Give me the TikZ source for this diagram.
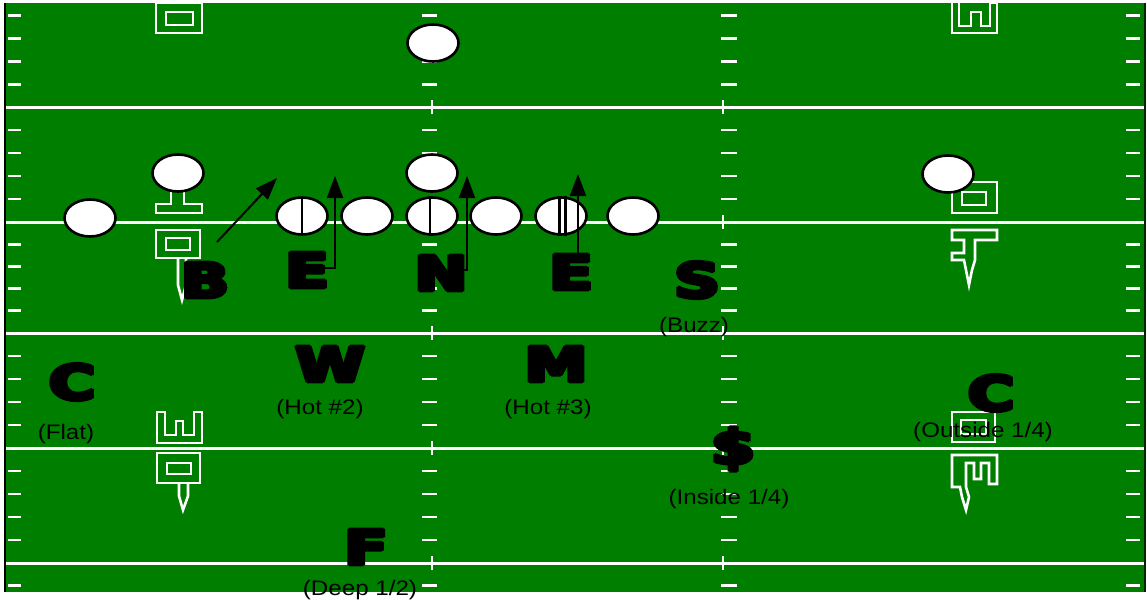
\documentclass[tikz,border=0pt]{standalone}
\usepackage{fontspec}
\setmainfont{Liberation Sans}
\newfontfamily\heavy{DejaVu Sans}[BoldFeatures={FakeBold=4}]
\usetikzlibrary{shapes.geometric,arrows.meta}
\definecolor{field}{RGB}{0,126,0}
\tikzset{
 player/.style={ellipse, draw=black, fill=white, line width=2.6pt, minimum width=51pt, minimum height=37pt, inner sep=0pt},
 yardline/.style={white, line width=3pt},
 hashmark/.style={white, line width=2.8pt},
 tickmark/.style={white, line width=2pt},
 numline/.style={white, line width=2.6pt, line join=miter},
 midline/.style={black, line width=2.2pt},
 big/.style={font=\heavy\bfseries\fontsize{48}{48}\selectfont, inner sep=0pt, text=black},
 small/.style={font=\fontsize{21}{21}\selectfont, inner sep=0pt, text=black},
 route/.style={black, line width=2pt, -{Triangle[length=22pt,width=16pt]}},
}
\newcommand{\fatText}[1]{\makebox[0pt][l]{\hspace{-1.3pt}#1}\makebox[0pt][l]{\hspace{1.3pt}#1}\makebox[0pt][l]{\raisebox{1pt}{#1}}\makebox[0pt][l]{\raisebox{-1pt}{#1}}#1}
\newcommand{\wideB}[1]{\scalebox{1.3}[1]{\fatText{#1}}}
\newcommand{\wideS}[1]{\scalebox{1.15}[1]{#1}}
\begin{document}
\begin{tikzpicture}[x=1pt,y=-1pt]
\useasboundingbox (0,0) rectangle (1147,605);
\fill[white] (0,0) rectangle (1147,605);
\fill[field] (5,3) rectangle (1146,592);
\draw[black, line width=2pt] (5,3) -- (5,592);
\draw[black!70!field, line width=2pt] (1145,3) -- (1145,592);
% yard lines
\foreach \y in {107,222,333,448,563}{
  \draw[yardline] (6,\y) -- (1144,\y);
  \draw[tickmark] (432,\y-7) -- (432,\y+7);
  \draw[tickmark] (723,\y-7) -- (723,\y+7);
}
% hash marks
\begin{scope}
\clip (6,3) rectangle (1144,592);
\foreach \a/\b in {-7/107,107/222,222/333,333/448,448/563,563/677}{
 \foreach \k in {1,2,3,4}{
  \pgfmathsetmacro{\yy}{\a+(\b-\a)*\k/5}
  \draw[hashmark] (8,\yy) -- (21,\yy);
  \draw[hashmark] (1126,\yy) -- (1140,\yy);
  \draw[hashmark] (422,\yy) -- (437,\yy);
  \draw[hashmark] (721,\yy) -- (737,\yy);
 }}
\end{scope}
% yard numbers, left
\draw[numline] (156,3) rectangle (202,33);
\draw[numline] (166,12) rectangle (193,25);
\draw[numline] (171,188) -- (171,204) -- (156,204) -- (156,213) -- (202,213) -- (202,204) -- (184,204) -- (184,188);
\draw[numline] (156,230) rectangle (200,258);
\draw[numline] (166,238) rectangle (190,250);
\draw[numline] (178,258) -- (178,285) -- (182,300) -- (186,285) -- (186,258);
\draw[numline] (157,412) -- (157,443) -- (202,443) -- (202,412) -- (194,412) -- (194,435) -- (183,435) -- (183,421) -- (176,421) -- (176,435) -- (165,435) -- (165,412) -- cycle;
\draw[numline] (157,453) rectangle (200,483);
\draw[numline] (167,463) rectangle (191,474);
\draw[numline] (179,483) -- (179,496) -- (183,510) -- (188,496) -- (188,483);
% yard numbers, right
\draw[numline] (952,3) -- (952,33) -- (997,33) -- (997,3) -- (990,3) -- (990,26) -- (981,26) -- (981,12) -- (971,12) -- (971,26) -- (959,26) -- (959,3);
\draw[numline] (952,182) rectangle (997,213);
\draw[numline] (962,192) rectangle (986,205);
\draw[numline] (952,230) -- (997,230) -- (997,240) -- (975,240) -- (975,260) -- (972,270) -- (969,285) -- (966,270) -- (964,260) -- (952,260) -- (952,253) -- (964,253) -- (964,240) -- (952,240) -- cycle;
\draw[numline] (952,412) rectangle (995,442);
\draw[numline] (961,420) rectangle (986,434);
\draw[numline] (952,455) -- (997,455) -- (997,484) -- (989,484) -- (989,463) -- (981,463) -- (981,479) -- (974,479) -- (974,463) -- (966,463) -- (966,487) -- (969,497) -- (966,510) -- (962,497) -- (960,487) -- (952,487) -- cycle;
% players
\node[player] (ctop) at (433,43) {};
\node[player] (wrl) at (90,218) {};
\node[player] (slotl) at (178,173) {};
\node[player] (lt) at (302,216) {};
\node[player] (lg) at (367,216) {};
\node[player] (cc) at (432,216) {};
\node[player] (rg) at (496,216) {};
\node[player] (rt) at (561,216) {};
\node[player] (te) at (633,216) {};
\node[player] (qb) at (432,173) {};
\node[player] (wrr) at (948,174) {};
\draw[midline] (lt.north) -- (lt.south);
\draw[midline] ([xshift=-2pt]cc.north) -- ([xshift=-2pt]cc.south);
\draw[midline] ([xshift=-1.5pt]rt.north) -- ([xshift=-1.5pt]rt.south);
\draw[midline] ([xshift=4.5pt]rt.north) -- ([xshift=4.5pt]rt.south);
% labels
\node[big] (B) at (205,280) {\wideB{B}};
\node[big] (El) at (307,270) {\wideB{E}};
\node[big] (N) at (441,273) {\wideB{N}};
\node[big] (Er) at (571,272) {\wideB{E}};
\node[big] (S) at (697,280) {\wideB{S}};
\node[small] (buzz) at (694,327) {\wideS{(Buzz)}};
\node[big] (W) at (330,364) {\wideB{W}};
\node[small] (hot2) at (320,409) {\wideS{(Hot \#2)}};
\node[big] (M) at (556,364) {\wideB{M}};
\node[small] (hot3) at (548,409) {\wideS{(Hot \#3)}};
\node[big] (Cl) at (72,382) {\wideB{C}};
\node[small] (flat) at (66,434) {\wideS{(Flat)}};
\node[big] (Cr) at (991,393) {\wideB{C}};
\node[small] (out) at (983,432) {\wideS{(Outside 1/4)}};
\node[big] (dol) at (733,449) {\wideB{\$}};
\node[small] (ins) at (729,499) {\wideS{(Inside 1/4)}};
\node[big] (F) at (366,547) {\wideB{F}};
\node[small] (deep) at (360,590) {\wideS{(Deep 1/2)}};
% routes
\coordinate (bs) at (217,242);
\coordinate (bt) at (277,178);
\coordinate (e1s) at (325,268);
\coordinate (e1c) at (335,268);
\coordinate (e1t) at (335,176);
\coordinate (ns) at (462,270);
\coordinate (nc) at (467,270);
\coordinate (nt) at (467,176);
\coordinate (e2s) at (578,255);
\coordinate (e2t) at (578,174);
\draw[route] (bs) -- (bt);
\draw[route] (e1s) -- (e1c) -- (e1t);
\draw[route] (ns) -- (nc) -- (nt);
\draw[route] (e2s) -- (e2t);
\end{tikzpicture}
\end{document}
